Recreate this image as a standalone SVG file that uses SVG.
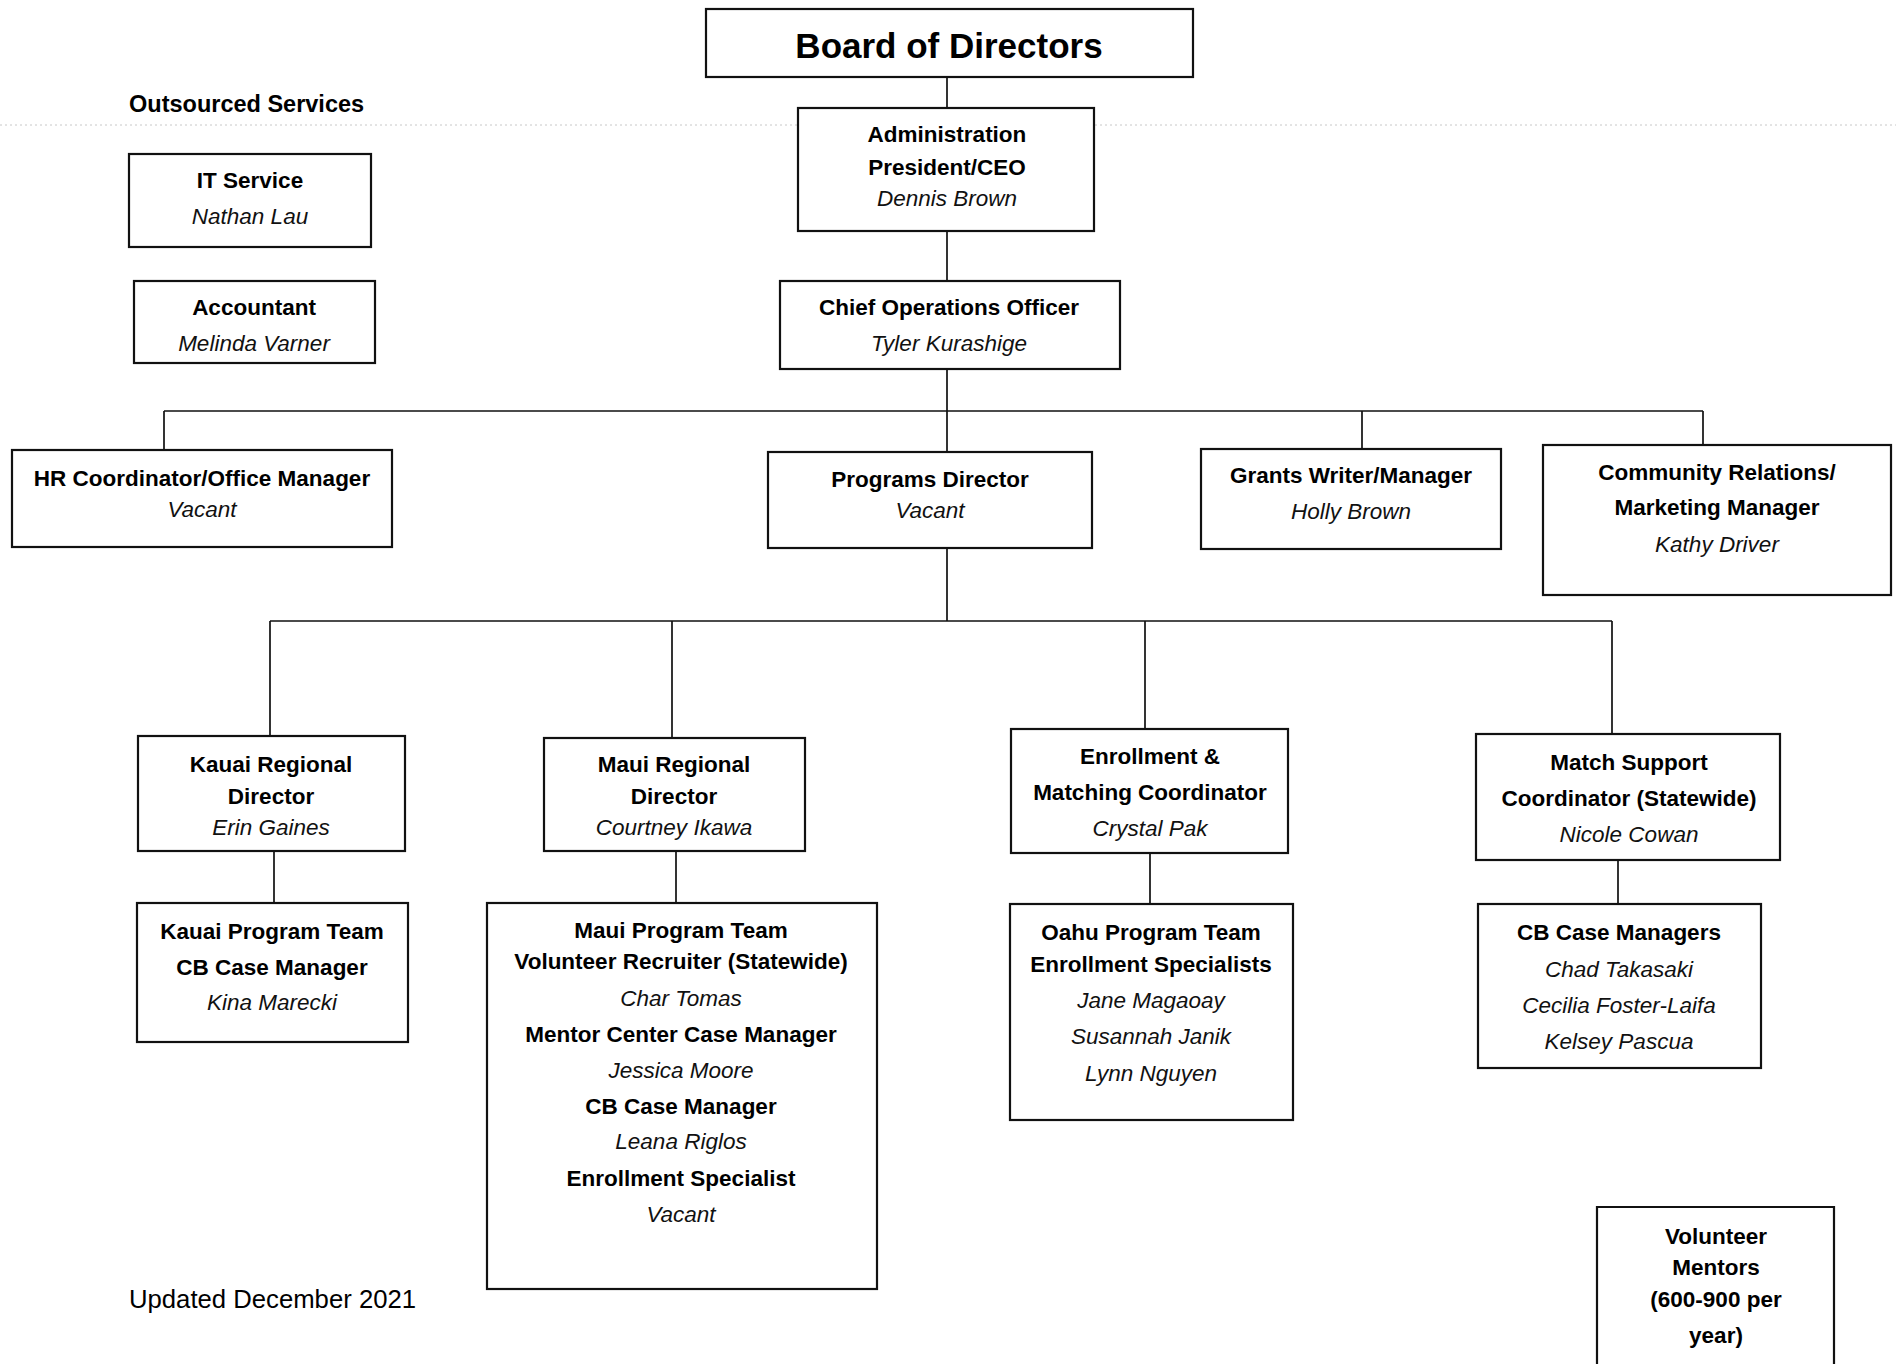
<svg xmlns="http://www.w3.org/2000/svg" width="1896" height="1364" viewBox="0 0 1896 1364">
<style>
.box{fill:#fff;stroke:#111;stroke-width:2.2}
.t{font-family:"Liberation Sans",Arial,sans-serif;font-weight:bold;font-size:22.5px;fill:#000;text-anchor:middle}
.n{font-family:"Liberation Sans",Arial,sans-serif;font-style:italic;font-size:22.5px;fill:#111;text-anchor:middle}
.c{fill:none;stroke:#111;stroke-width:1.7}
</style>
<rect width="1896" height="1364" fill="#fff"/>
<line x1="0" y1="125" x2="1896" y2="125" stroke="#c8c8c8" stroke-width="1" stroke-dasharray="2,3"/>
<text x="129" y="112" font-family="Liberation Sans, Arial, sans-serif" font-weight="bold" font-size="23.5">Outsourced Services</text>
<text x="129" y="1308" font-family="Liberation Sans, Arial, sans-serif" font-size="25.7">Updated December 2021</text>
<g id="connectors">
<path class="c" d="M947 77V108M947 231V281M947 369V452M164 411H1703M164 411V450M1362 411V449M1703 411V445"/>
<path class="c" d="M947 548V621M270 621H1612M270 621V736M672 621V738M1145 621V729M1612 621V734"/>
<path class="c" d="M274 851V903M676 851V903M1150 853V904M1618 860V904"/>
</g>
<g id="board"><rect class="box" x="706" y="9" width="487" height="68"/>
<text x="949" y="58" font-family="Liberation Sans, Arial, sans-serif" font-weight="bold" font-size="35" text-anchor="middle">Board of Directors</text></g>
<g id="it"><rect class="box" x="129" y="154" width="242" height="93"/>
<text class="t" x="250" y="188">IT Service</text><text class="n" x="250" y="224">Nathan Lau</text></g>
<g id="accountant"><rect class="box" x="134" y="281" width="241" height="82"/>
<text class="t" x="254" y="315">Accountant</text><text class="n" x="254" y="351">Melinda Varner</text></g>
<g id="admin"><rect class="box" x="798" y="108" width="296" height="123"/>
<text class="t" x="947" y="142">Administration</text><text class="t" x="947" y="175">President/CEO</text><text class="n" x="947" y="206">Dennis Brown</text></g>
<g id="coo"><rect class="box" x="780" y="281" width="340" height="88"/>
<text class="t" x="949" y="315">Chief Operations Officer</text><text class="n" x="949" y="351">Tyler Kurashige</text></g>
<g id="hr"><rect class="box" x="12" y="450" width="380" height="97"/>
<text class="t" x="202" y="486">HR Coordinator/Office Manager</text><text class="n" x="202" y="517">Vacant</text></g>
<g id="programs"><rect class="box" x="768" y="452" width="324" height="96"/>
<text class="t" x="930" y="487">Programs Director</text><text class="n" x="930" y="518">Vacant</text></g>
<g id="grants"><rect class="box" x="1201" y="449" width="300" height="100"/>
<text class="t" x="1351" y="483">Grants Writer/Manager</text><text class="n" x="1351" y="519">Holly Brown</text></g>
<g id="community"><rect class="box" x="1543" y="445" width="348" height="150"/>
<text class="t" x="1717" y="480">Community Relations/</text><text class="t" x="1717" y="515">Marketing Manager</text><text class="n" x="1717" y="552">Kathy Driver</text></g>
<g id="kauai-dir"><rect class="box" x="138" y="736" width="267" height="115"/>
<text class="t" x="271" y="772">Kauai Regional</text><text class="t" x="271" y="804">Director</text><text class="n" x="271" y="835">Erin Gaines</text></g>
<g id="maui-dir"><rect class="box" x="544" y="738" width="261" height="113"/>
<text class="t" x="674" y="772">Maui Regional</text><text class="t" x="674" y="804">Director</text><text class="n" x="674" y="835">Courtney Ikawa</text></g>
<g id="enroll"><rect class="box" x="1011" y="729" width="277" height="124"/>
<text class="t" x="1150" y="764">Enrollment &amp;</text><text class="t" x="1150" y="800">Matching Coordinator</text><text class="n" x="1150" y="836">Crystal Pak</text></g>
<g id="match"><rect class="box" x="1476" y="734" width="304" height="126"/>
<text class="t" x="1629" y="770">Match Support</text><text class="t" x="1629" y="806">Coordinator (Statewide)</text><text class="n" x="1629" y="842">Nicole Cowan</text></g>
<g id="kauai-team"><rect class="box" x="137" y="903" width="271" height="139"/>
<text class="t" x="272" y="939">Kauai Program Team</text><text class="t" x="272" y="975">CB Case Manager</text><text class="n" x="272" y="1010">Kina Marecki</text></g>
<g id="maui-team"><rect class="box" x="487" y="903" width="390" height="386"/>
<text class="t" x="681" y="938">Maui Program Team</text><text class="t" x="681" y="969">Volunteer Recruiter (Statewide)</text><text class="n" x="681" y="1006">Char Tomas</text><text class="t" x="681" y="1042">Mentor Center Case Manager</text><text class="n" x="681" y="1078">Jessica Moore</text><text class="t" x="681" y="1114">CB Case Manager</text><text class="n" x="681" y="1149">Leana Riglos</text><text class="t" x="681" y="1186">Enrollment Specialist</text><text class="n" x="681" y="1222">Vacant</text></g>
<g id="oahu-team"><rect class="box" x="1010" y="904" width="283" height="216"/>
<text class="t" x="1151" y="940">Oahu Program Team</text><text class="t" x="1151" y="972">Enrollment Specialists</text><text class="n" x="1151" y="1008">Jane Magaoay</text><text class="n" x="1151" y="1044">Susannah Janik</text><text class="n" x="1151" y="1081">Lynn Nguyen</text></g>
<g id="cb-team"><rect class="box" x="1478" y="904" width="283" height="164"/>
<text class="t" x="1619" y="940">CB Case Managers</text><text class="n" x="1619" y="977">Chad Takasaki</text><text class="n" x="1619" y="1013">Cecilia Foster-Laifa</text><text class="n" x="1619" y="1049">Kelsey Pascua</text></g>
<g id="volunteers"><path class="box" d="M1597 1370V1207H1834V1370"/>
<text class="t" x="1716" y="1244">Volunteer</text><text class="t" x="1716" y="1275">Mentors</text><text class="t" x="1716" y="1307">(600-900 per</text><text class="t" x="1716" y="1343">year)</text></g>
</svg>
